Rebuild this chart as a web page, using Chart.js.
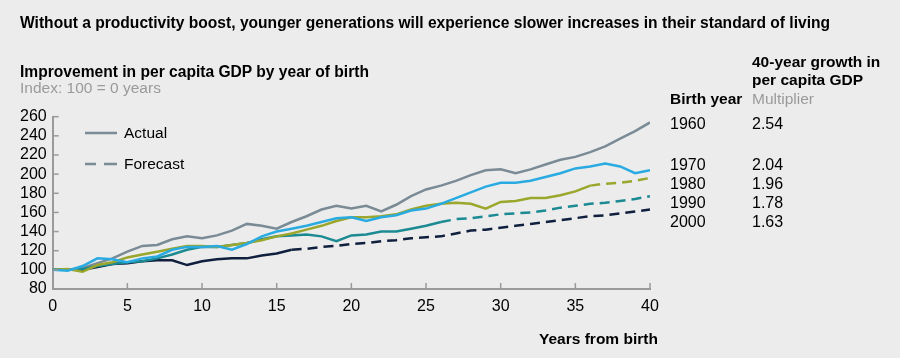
<!DOCTYPE html>
<html>
<head>
<meta charset="utf-8">
<script src="https://cdn.jsdelivr.net/npm/chart.js@4.4.1/dist/chart.umd.min.js"></script>
<style>
  html, body { margin: 0; padding: 0; background: #ececec; }
  #wrap { position: relative; width: 900px; height: 358px; background: #ececec; font-family: "Liberation Sans", Arial, sans-serif; color: #000; overflow: hidden; }
  #c { position: absolute; left: 0; top: 0; }
  .t { position: absolute; white-space: nowrap; line-height: 1; }
  .b { font-weight: bold; }
  .g { color: #9a9a9a; }
</style>
</head>
<body>
<div id="wrap">
  <canvas id="c" width="900" height="358"></canvas>
  <div class="t b" style="left:20px; top:15px; font-size:15.6px;">Without a productivity boost, younger generations will experience slower increases in their standard of living</div>
  <div class="t b" style="left:20px; top:64px; font-size:15.6px;">Improvement in per capita GDP by year of birth</div>
  <div class="t g" style="left:20px; top:80px; font-size:15.5px;">Index: 100 = 0 years</div>

  <svg class="t" style="left:84px; top:126px;" width="36" height="44">
    <line x1="1" y1="7" x2="33" y2="7" stroke="#7a8b96" stroke-width="2.5"/>
    <line x1="1" y1="38" x2="12" y2="38" stroke="#7a8b96" stroke-width="2.5"/>
    <line x1="20" y1="38" x2="33" y2="38" stroke="#7a8b96" stroke-width="2.5"/>
  </svg>
  <div class="t" style="left:124px; top:125px; font-size:15.5px;">Actual</div>
  <div class="t" style="left:124px; top:156px; font-size:15.5px;">Forecast</div>

  <div class="t b" style="left:752px; top:54px; font-size:15.5px;">40-year growth in</div>
  <div class="t b" style="left:752px; top:72px; font-size:15.5px;">per capita GDP</div>
  <div class="t b" style="left:670px; top:91px; font-size:15.5px;">Birth year</div>
  <div class="t g" style="left:752px; top:91px; font-size:15.5px;">Multiplier</div>
  <div id="tbl"></div>

  <div class="t b" style="left:539px; top:331px; font-size:15.5px;">Years from birth</div>
</div>
<script>
const years = [0,1,2,3,4,5,6,7,8,9,10,11,12,13,14,15,16,17,18,19,20,21,22,23,24,25,26,27,28,29,30,31,32,33,34,35,36,37,38,39,40];
const birthYears = ["1960","1970","1980","1990","2000"];
const multipliers = ["2.54","2.04","1.96","1.78","1.63"];
const v1960 = [100,100,102,107,112,119,125,126,132,135,133,136,141,148,146,143,150,156,163,167,164,167,161,168,177,184,188,193,199,204,205,201,205,210,215,218,223,229,237,245,254];
const v1970 = [100,99,104,112,111,108,112,114,121,124,124,125,121,127,135,140,143,146,150,154,155,151,155,157,162,164,169,175,181,187,191,191,193,197,201,206,208,211,208,201,204];
const v1980 = [100,101,98,105,108,113,116,119,122,125,125,124,126,128,131,135,138,142,146,151,155,155,156,158,163,167,169,170,169,164,171,172,175,175,178,182,188,190,191,193,196];
const v1990 = [100,100,101,104,106,108,109,112,116,121,124,124,126,128,132,135,136,137,135,130,136,137,140,140,143,146,150,153,154,156,158,159,160,162,165,167,169,170,172,174,177];
const v2000 = [100,100,100,103,106,107,109,110,110,105,109,111,112,112,115,117,121,122,124,125,127,128,130,131,133,134,135,138,141,142,144,146,148,150,152,154,156,157,159,161,163];
// index of first forecast year (dashed from here on)
const forecastFrom = [41, 41, 36, 26, 16];
const yTicks = [80,100,120,140,160,180,200,220,240,260];
const xTicks = [0,5,10,15,20,25,30,35,40];

const colors = ["#7a8b96", "#29abe2", "#9aa62c", "#1b8a92", "#0f1f3d"];
const series = [v1960, v1970, v1980, v1990, v2000];

// table rows
const tblY = [116, 157, 176, 195, 214];
const tbl = document.getElementById('tbl');
birthYears.forEach((b, i) => {
  const a = document.createElement('div'); a.className = 't'; a.style.cssText = `left:670px;top:${tblY[i]}px;font-size:16px;`; a.textContent = b; tbl.appendChild(a);
  const m = document.createElement('div'); m.className = 't'; m.style.cssText = `left:752px;top:${tblY[i]}px;font-size:16px;`; m.textContent = multipliers[i]; tbl.appendChild(m);
});

const datasets = series.map((vals, i) => ({
  label: birthYears[i],
  data: years.map((x, k) => ({x: x, y: vals[k]})),
  borderColor: colors[i],
  backgroundColor: colors[i],
  borderWidth: 2.5,
  pointRadius: 0,
  tension: 0,
  fill: false,
  order: i === 0 ? 5 : i,
  segment: {
    borderDash: ctx => ctx.p0DataIndex >= forecastFrom[i] ? [10, 6] : undefined
  }
}));

const innerTicks = {
  id: 'innerTicks',
  afterDraw(chart) {
    const {ctx, scales: {x, y}} = chart;
    ctx.save();
    ctx.strokeStyle = '#9a9a9a';
    ctx.lineWidth = 1.5;
    xTicks.forEach(v => {
      if (v === 0) return;
      const px = x.getPixelForValue(v);
      ctx.beginPath(); ctx.moveTo(px, y.bottom); ctx.lineTo(px, y.bottom - 6); ctx.stroke();
    });
    yTicks.forEach(v => {
      if (v === 80) return;
      const py = y.getPixelForValue(v);
      ctx.beginPath(); ctx.moveTo(x.left, py); ctx.lineTo(x.left + 6, py); ctx.stroke();
    });
    ctx.restore();
  }
};

new Chart(document.getElementById('c'), {
  type: 'line',
  data: { datasets },
  options: {
    responsive: false,
    animation: false,
    events: [],
    layout: { padding: { left: 0, top: 116.7, right: 250, bottom: 39 } },
    plugins: { legend: { display: false }, tooltip: { enabled: false } },
    scales: {
      x: {
        type: 'linear', min: 0, max: 40,
        afterBuildTicks: s => { s.ticks = xTicks.map(v => ({value: v})); },
        afterFit: s => { s.height = 30; },
        ticks: { color: '#000', font: { family: '"Liberation Sans", Arial', size: 16 }, padding: 8, maxRotation: 0, autoSkip: false },
        grid: { display: false, drawTicks: false },
        border: { display: true, color: '#9a9a9a', width: 2 }
      },
      y: {
        min: 80, max: 260,
        afterBuildTicks: s => { s.ticks = yTicks.map(v => ({value: v})); },
        afterFit: s => { s.width = 52.7; },
        ticks: { color: '#000', font: { family: '"Liberation Sans", Arial', size: 16 }, padding: 6, autoSkip: false },
        grid: { display: false, drawTicks: false },
        border: { display: true, color: '#9a9a9a', width: 2 }
      }
    }
  },
  plugins: [innerTicks]
});
</script>
</body>
</html>
